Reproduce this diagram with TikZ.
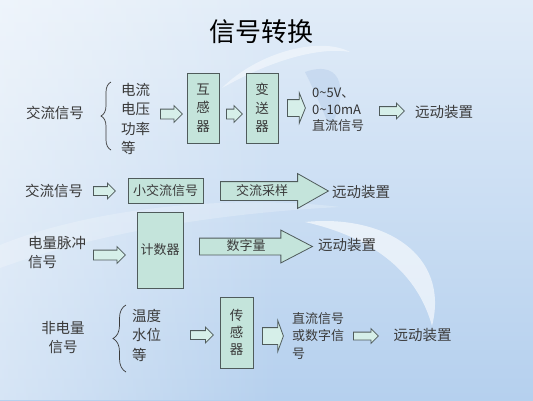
\documentclass[tikz,border=0pt]{standalone}
\usepackage{fontspec}
\setmainfont{Noto Sans CJK SC}
\usetikzlibrary{shapes.arrows,decorations.pathreplacing,fadings}
\definecolor{bgtop}{HTML}{E1ECF8}
\definecolor{bgbot}{HTML}{B5D0EE}
\definecolor{boxfill}{HTML}{C4E4DB}
\definecolor{arrfill}{HTML}{D6EFE9}
\definecolor{lineclr}{HTML}{4F5B5B}
\definecolor{txt}{HTML}{3A3A3A}
\definecolor{swirl}{HTML}{A9C4E6}
\newcommand\shaftrule[1]{\rule{0pt}{#1}}
\begin{document}
\begin{tikzpicture}[x=1pt,y=-1pt,
  lbl/.style={text=txt, inner sep=0pt, font=\fontsize{14.5}{19.5}\selectfont},
  small/.style={text=txt, inner sep=0pt, font=\fontsize{13}{17}\selectfont},
  box/.style={draw=lineclr, fill=boxfill, line width=0.8pt, inner sep=0pt, align=center,
    text=txt, font=\fontsize{13.5}{18.5}\selectfont},
  harrow/.style={single arrow, draw=lineclr, fill=arrfill, line width=0.8pt, inner sep=0pt,
    minimum height=#1, single arrow head extend=3.5pt, anchor=tail},
  fatarrow/.style={single arrow, draw=lineclr, fill=arrfill, line width=0.8pt, inner sep=0pt,
    minimum height=#1, single arrow head extend=7pt, single arrow tip angle=136, anchor=tail},
  bigarrow/.style={single arrow, draw=lineclr, fill=boxfill, line width=0.8pt, inner sep=0pt,
    minimum height=#1, single arrow head extend=8pt, anchor=tail},
  bracestyle/.style={draw=txt, line width=0.7pt, decorate, decoration={brace, amplitude=#1}}
]
\useasboundingbox (0,0) rectangle (533,400);
% background
\shade[top color=bgtop, bottom color=bgbot] (0,0) rectangle (533,400);
\fill[white, opacity=0.45, path fading=east] (0,0) rectangle (280,400);
% decorative swirls
\fill[white, opacity=0.22] (0,245) .. controls (100,205) and (240,195) .. (340,207)
  .. controls (240,212) and (110,228) .. (0,268) -- cycle;
\fill[white, opacity=0.6] (305,222) .. controls (385,214) and (450,255) .. (432,326)
  .. controls (420,282) and (385,240) .. (305,222) -- cycle;
\fill[white, opacity=0.45] (222,88) .. controls (258,52) and (320,36) .. (350,52)
  .. controls (322,47) and (275,58) .. (222,88) -- cycle;
\fill[swirl, opacity=0.35] (305,72) .. controls (345,58) and (348,95) .. (330,128)
  .. controls (322,108) and (314,90) .. (305,72) -- cycle;

% title
\node[inner sep=0pt, font=\fontsize{26}{30}\selectfont, text=black] (title) at (261,32) {信号转换};

% ---- row 1
\node[lbl] (in1) at (55,113) {交流信号};
\coordinate (br1b) at (111,150);
\coordinate (br1t) at (111,82);
\draw[bracestyle=10pt] (br1b) -- (br1t);
\node[lbl, anchor=west, align=left] (list1) at (121,119) {电流\\电压\\功率\\等};
\node[harrow=22pt] (a11) at (160,114) {\shaftrule{9pt}};
\node[box, minimum width=32pt, minimum height=70pt] (hu) at (203,108) {互\\感\\器};
\node[harrow=16pt] (a12) at (226,114) {\shaftrule{9pt}};
\node[box, minimum width=32pt, minimum height=70pt] (bian) at (262,108) {变\\送\\器};
\node[fatarrow=18pt] (a13) at (287,108) {\shaftrule{16pt}};
\node[anchor=west, align=left, inner sep=0pt, text=black!80, font=\fontsize{13}{16.5}\selectfont]
  (dc1) at (312,110) {0\textasciitilde5V、\\0\textasciitilde10mA\\{\color{txt}直流信号}};
\node[harrow=25pt] (a14) at (379,111) {\shaftrule{8pt}};
\node[lbl] (out1) at (444,112) {远动装置};

% ---- row 2
\node[lbl] (in2) at (54,191) {交流信号};
\node[harrow=22pt] (a21) at (93,191) {\shaftrule{8pt}};
\node[box, minimum width=75pt, minimum height=25pt, font=\fontsize{13}{17}\selectfont] (xiao) at (165.5,190.5) {小交流信号};
\node[bigarrow=108pt, single arrow tip angle=59] (a22) at (220,191) {\shaftrule{18pt}};
\node[small] (cy) at (262,191) {交流采样};
\node[lbl] (out2) at (361,192) {远动装置};

% ---- row 3
\node[lbl, anchor=west, align=left] (in3) at (28,252.5) {电量脉冲\\信号};
\node[harrow=32pt] (a31) at (93,255) {\shaftrule{9pt}};
\node[box, minimum width=46pt, minimum height=76pt, font=\fontsize{13}{17}\selectfont] (ji) at (160,250) {计数器};
\node[bigarrow=113pt, single arrow tip angle=55] (a32) at (199,246.5) {\shaftrule{16pt}};
\node[small] (sz) at (246,246) {数字量};
\node[lbl] (out3) at (347,245) {远动装置};

% ---- row 4
\node[lbl, align=center] (in4) at (63,337.5) {非电量\\信号};
\coordinate (br4b) at (126,372);
\coordinate (br4t) at (126,305);
\draw[bracestyle=13pt] (br4b) -- (br4t);
\node[lbl, anchor=west, align=left] (list4) at (132,335) {温度\\水位\\等};
\node[harrow=23pt] (a41) at (190,335) {\shaftrule{8pt}};
\node[box, minimum width=33pt, minimum height=71pt, font=\fontsize{13.5}{17}\selectfont] (chuan) at (236.5,332.5) {传\\感\\器};
\node[fatarrow=21pt, single arrow tip angle=140] (a42) at (262,336) {\shaftrule{16pt}};
\node[small, anchor=west, align=left, font=\fontsize{13}{17.5}\selectfont] (dc4) at (292,336) {直流信号\\或数字信\\号};
\node[harrow=25pt] (a43) at (353,336) {\shaftrule{7pt}};
\node[lbl] (out4) at (422.5,335) {远动装置};
\end{tikzpicture}
\end{document}
